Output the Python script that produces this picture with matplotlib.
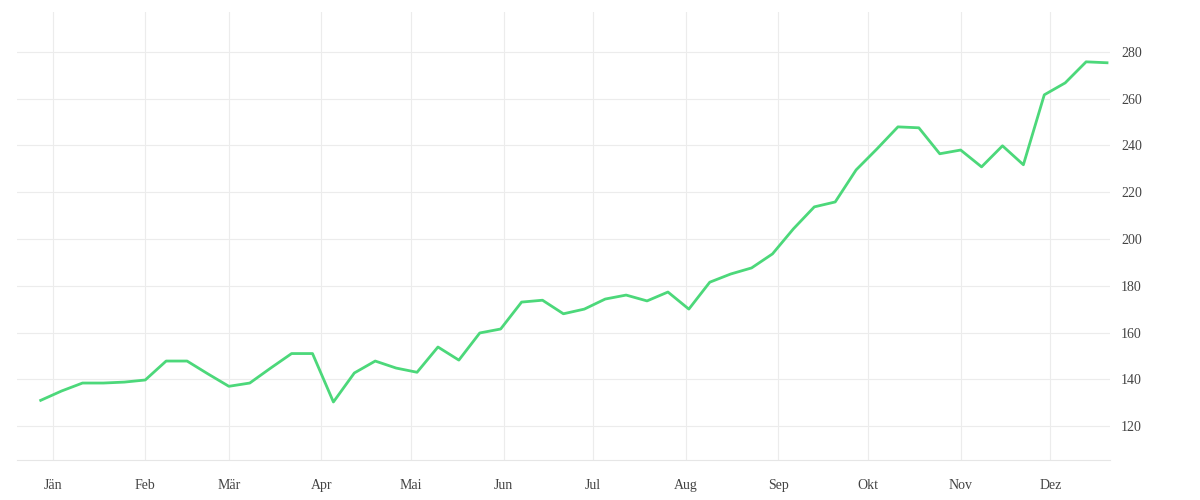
import matplotlib
matplotlib.use("Agg")
import matplotlib.pyplot as plt
import datetime as dt

values = [131, 135, 138.4, 138.4, 138.8, 139.7, 147.8, 147.8, 142.3, 137, 138.4, 144.8,
          151, 151, 130.3, 142.7, 147.8, 144.8, 143, 153.8, 148.2, 159.8, 161.5, 173,
          173.8, 168, 170, 174.3, 176, 173.5, 177.3, 170, 181.5, 185, 187.6, 193.6,
          204.3, 213.7, 215.8, 229.5, 238.5, 247.9, 247.5, 236.4, 238, 230.8, 239.8,
          231.7, 261.6, 266.7, 275.7, 275.3]
start = dt.date(2020, 12, 28)
dates = [start + dt.timedelta(days=7 * i) for i in range(len(values))]
months = ["Jän", "Feb", "Mär", "Apr", "Mai", "Jun", "Jul", "Aug", "Sep", "Okt", "Nov", "Dez"]
month_starts = [dt.date(2021, m, 1) for m in range(1, 13)]

fig = plt.figure(figsize=(12, 5), dpi=100)
ax = fig.add_axes([0.014, 0.08, 0.911, 0.896])
ax.plot(dates, values, color="#4cd87a", lw=2.0)
ax.set_xlim(dt.date(2021, 1, 1) - dt.timedelta(days=12.8), dt.date(2021, 1, 1) + dt.timedelta(days=354.5))
ax.set_ylim(105.5, 297)
ax.set_xticks(month_starts)
ax.set_xticklabels(months)
ax.set_yticks(range(120, 281, 20))
ax.yaxis.tick_right()
ax.grid(True, color="#ececec", lw=0.8)
for s in ["top", "left", "right"]:
    ax.spines[s].set_visible(False)
ax.spines["bottom"].set_color("#e6e6e6")
ax.tick_params(axis="x", length=0, labelsize=10, colors="#444444", pad=14)
ax.tick_params(axis="y", length=0, labelsize=10, colors="#444444", pad=8)
for lab in ax.get_xticklabels() + ax.get_yticklabels():
    lab.set_family("Liberation Serif")
fig.savefig("out.png")
